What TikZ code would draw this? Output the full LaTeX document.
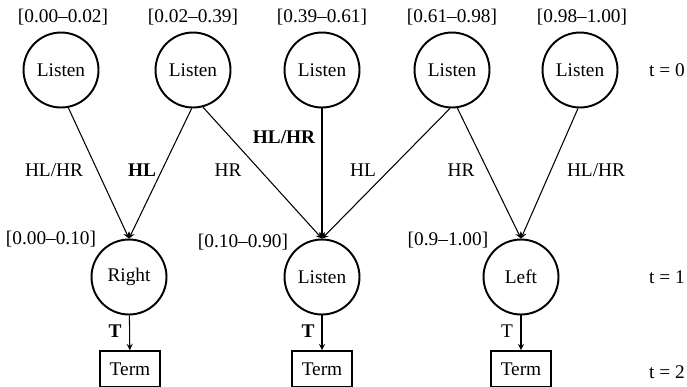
\documentclass[tikz,border=0pt]{standalone}
\usepackage{fontspec}
\setmainfont{Liberation Serif}
\usetikzlibrary{arrows}
\tikzset{
  state/.style={circle,draw,line width=1.1pt,minimum size=1.5cm,inner sep=0pt},
  term/.style={draw,line width=0.9pt,minimum width=1.2cm,minimum height=0.72cm,inner sep=0pt},
  obs/.style={-stealth,line width=0.6pt}
}
\begin{document}
\begin{tikzpicture}[x=0.02cm,y=-0.02cm,font=\fontsize{11}{13}\selectfont]
\useasboundingbox (0,0) rectangle (687,386);
% t = 0
\node[state] (l1) at (61,70) {Listen};
\node[state] (l2) at (193,70) {Listen};
\node[state] (l3) at (322,70) {Listen};
\node[state] (l4) at (452,70) {Listen};
\node[state] (l5) at (580,70) {Listen};
\node (b1) at (63,17) {[0.00--0.02]};
\node (b2) at (193,17) {[0.02--0.39]};
\node (b3) at (322,17) {[0.39--0.61]};
\node (b4) at (452,17) {[0.61--0.98]};
\node (b5) at (582,17) {[0.98--1.00]};
% t = 1
\node[state] (right) at (129,277) {Right};
\node[state] (listen) at (322,277) {Listen};
\node[state] (left) at (521,277) {Left};
\node (m1) at (51,239) {[0.00--0.10]};
\node (m2) at (243,242) {[0.10--0.90]};
\node (m3) at (448,240) {[0.9--1.00]};
% t = 2
\node[term] (t1) at (130,369) {Term};
\node[term] (t2) at (322,369) {Term};
\node[term] (t3) at (521,369) {Term};
% observations
\draw[obs] (l1.-79) -- (right.north);
\draw[obs] (l2.-92) -- (right.north);
\draw[obs] (l2.-75) -- (listen.north);
\draw[obs] (l3.south) -- (listen.north);
\draw[obs] (l4.-93) -- (listen.north);
\draw[obs] (l4.-82) -- (left.north);
\draw[obs] (l5.-93) -- (left.north);
\draw[obs] (right) -- (t1);
\draw[obs] (listen) -- (t2);
\draw[obs] (left) -- (t3);
\node (o1) at (54,170) {HL/HR};
\node (o2) at (142,170) {\bfseries HL};
\node (o3) at (228,170) {HR};
\node (o4) at (284,137) {\bfseries HL/HR};
\node (o5) at (363,170) {HL};
\node (o6) at (461,170) {HR};
\node (o7) at (596,170) {HL/HR};
\node (e1) at (115,331) {\bfseries T};
\node (e2) at (308,331) {\bfseries T};
\node (e3) at (507,331) {T};
% time steps
\node (s0) at (667,70) {t = 0};
\node (s1) at (667,277) {t = 1};
\node (s2) at (667,372) {t = 2};
\end{tikzpicture}
\end{document}
